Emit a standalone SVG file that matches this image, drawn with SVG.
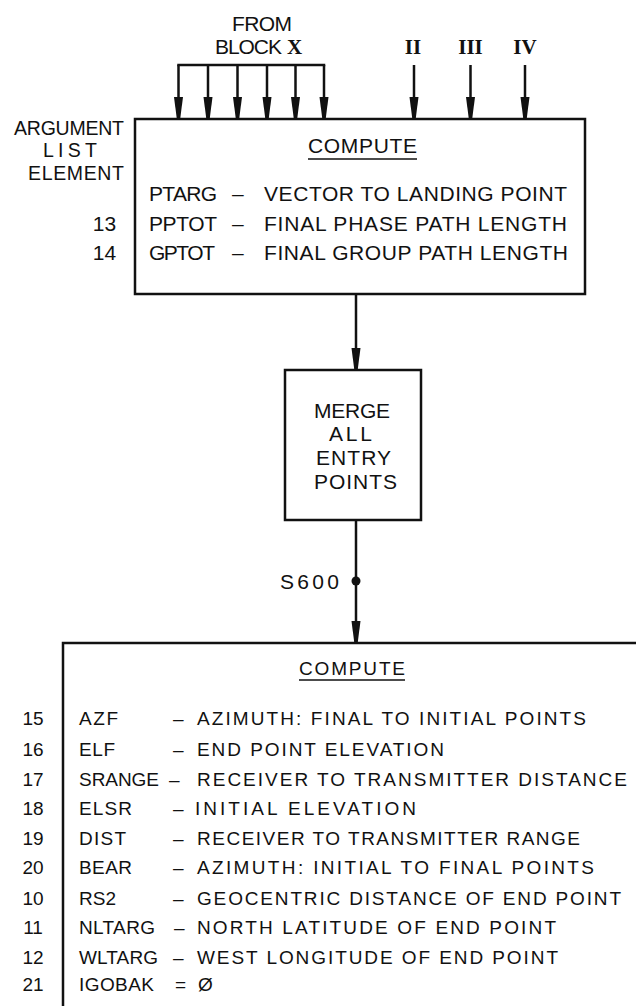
<svg xmlns="http://www.w3.org/2000/svg" width="636" height="1006" viewBox="0 0 636 1006">
  <style>
    text { font-family: "Liberation Sans", Arial, sans-serif; fill: #111; }
    .t20 { font-size: 21px; }
    .t18 { font-size: 19px; }
    .t19 { font-size: 19.5px; }
    .rn { font-family: "Liberation Serif", "Times New Roman", serif; font-size: 21px; font-weight: bold; }
    .box { fill: #fff; stroke: #111; stroke-width: 2.5; }
    .ln { fill: none; stroke: #111; stroke-width: 2.5; }
    .ul { stroke: #111; stroke-width: 1.6; }
  </style>
  <defs>
    <marker id="arr" viewBox="0 -5 22 10" markerWidth="22" markerHeight="10" markerUnits="userSpaceOnUse" refX="22" refY="0" orient="auto">
      <path d="M0,-4.5 L21,-1.8 L22,0 L21,1.8 L0,4.5 Z" fill="#111"/>
    </marker>
  </defs>

  <rect width="636" height="1006" fill="#fff"/>

  <!-- inputs from the upstream blocks -->
  <g id="source-labels">
    <text class="t20" x="232" y="31" textLength="60">FROM</text>
    <text class="t20" x="215" y="54" textLength="67">BLOCK</text>
    <text class="rn" x="287" y="54" textLength="18">X</text>
    <text class="rn" x="413" y="54" text-anchor="middle">II</text>
    <text class="rn" x="470.5" y="54" text-anchor="middle">III</text>
    <text class="rn" x="525" y="54" text-anchor="middle">IV</text>
  </g>

  <g id="argument-header">
    <text class="t19" x="14" y="135" textLength="110">ARGUMENT</text>
    <text class="t19" x="43" y="157" textLength="54">LIST</text>
    <text class="t19" x="28" y="180" textLength="96">ELEMENT</text>
  </g>

  <!-- connectors -->
  <g id="connectors">
    <line class="ln" x1="177.25" y1="65" x2="325.25" y2="65"/>
    <line class="ln" x1="178.5" y1="65" x2="178.5" y2="119" marker-end="url(#arr)"/>
    <line class="ln" x1="208" y1="65" x2="208" y2="119" marker-end="url(#arr)"/>
    <line class="ln" x1="237.5" y1="65" x2="237.5" y2="119" marker-end="url(#arr)"/>
    <line class="ln" x1="267" y1="65" x2="267" y2="119" marker-end="url(#arr)"/>
    <line class="ln" x1="295.5" y1="65" x2="295.5" y2="119" marker-end="url(#arr)"/>
    <line class="ln" x1="324" y1="65" x2="324" y2="119" marker-end="url(#arr)"/>
    <line class="ln" x1="414" y1="65" x2="414" y2="119" marker-end="url(#arr)"/>
    <line class="ln" x1="470.5" y1="65" x2="470.5" y2="119" marker-end="url(#arr)"/>
    <line class="ln" x1="525" y1="65" x2="525" y2="119" marker-end="url(#arr)"/>
    <line class="ln" x1="356" y1="294" x2="356" y2="370" marker-end="url(#arr)"/>
    <line class="ln" x1="356" y1="520" x2="356" y2="643" marker-end="url(#arr)"/>
    <circle cx="356" cy="581" r="4.5" fill="#111"/>
    <text class="t20" x="280" y="589" textLength="59">S600</text>
  </g>

  <!-- first compute block -->
  <g id="compute-1">
    <rect class="box" x="135" y="119" width="450" height="175"/>
    <text class="t20" x="308" y="153" textLength="109">COMPUTE</text>
    <line class="ul" x1="308" y1="159" x2="417" y2="159"/>
    <text class="t20" x="149" y="201" textLength="68">PTARG</text>
    <text class="t20" x="232" y="201">–</text>
    <text class="t20" x="264" y="201" textLength="303">VECTOR TO LANDING POINT</text>
    <text class="t20" x="104.5" y="231" text-anchor="middle">13</text>
    <text class="t20" x="149" y="231" textLength="68">PPTOT</text>
    <text class="t20" x="232" y="231">–</text>
    <text class="t20" x="264" y="231" textLength="303">FINAL PHASE PATH LENGTH</text>
    <text class="t20" x="104.5" y="260" text-anchor="middle">14</text>
    <text class="t20" x="149" y="260" textLength="66">GPTOT</text>
    <text class="t20" x="232" y="260">–</text>
    <text class="t20" x="264" y="260" textLength="304">FINAL GROUP PATH LENGTH</text>
  </g>

  <!-- merge block -->
  <g id="merge">
    <rect class="box" x="285" y="370" width="136" height="150"/>
    <text class="t20" x="314" y="418" textLength="76">MERGE</text>
    <text class="t20" x="329" y="441" textLength="43">ALL</text>
    <text class="t20" x="316" y="465" textLength="75">ENTRY</text>
    <text class="t20" x="314" y="489" textLength="83">POINTS</text>
  </g>

  <!-- second compute block, running off the sheet -->
  <g id="compute-2">
    <path class="box" d="M642,643 H63 V1012 H642 Z"/>
    <text class="t18" x="299" y="675" textLength="106">COMPUTE</text>
    <line class="ul" x1="299" y1="680" x2="405" y2="680"/>

    <text class="t18" x="33" y="725" text-anchor="middle">15</text>
    <text class="t18" x="79" y="725" textLength="39">AZF</text>
    <text class="t18" x="173" y="725">–</text>
    <text class="t18" x="197" y="725" textLength="389">AZIMUTH: FINAL TO INITIAL POINTS</text>

    <text class="t18" x="33" y="756" text-anchor="middle">16</text>
    <text class="t18" x="79" y="756" textLength="36">ELF</text>
    <text class="t18" x="173" y="756">–</text>
    <text class="t18" x="197" y="756" textLength="247">END POINT ELEVATION</text>

    <text class="t18" x="33" y="786" text-anchor="middle">17</text>
    <text class="t18" x="79" y="786" textLength="80">SRANGE</text>
    <text class="t18" x="169" y="786">–</text>
    <text class="t18" x="197" y="786" textLength="430">RECEIVER TO TRANSMITTER DISTANCE</text>

    <text class="t18" x="33" y="815" text-anchor="middle">18</text>
    <text class="t18" x="79" y="815" textLength="53">ELSR</text>
    <text class="t18" x="173" y="815">–</text>
    <text class="t18" x="195" y="815" textLength="221">INITIAL ELEVATION</text>

    <text class="t18" x="33" y="845" text-anchor="middle">19</text>
    <text class="t18" x="79" y="845" textLength="47">DIST</text>
    <text class="t18" x="173" y="845">–</text>
    <text class="t18" x="197" y="845" textLength="383">RECEIVER TO TRANSMITTER RANGE</text>

    <text class="t18" x="33" y="874" text-anchor="middle">20</text>
    <text class="t18" x="79" y="874" textLength="53">BEAR</text>
    <text class="t18" x="173" y="874">–</text>
    <text class="t18" x="197" y="874" textLength="397">AZIMUTH: INITIAL TO FINAL POINTS</text>

    <text class="t18" x="33" y="905" text-anchor="middle">10</text>
    <text class="t18" x="79" y="905" textLength="37">RS2</text>
    <text class="t18" x="173" y="905">–</text>
    <text class="t18" x="197" y="905" textLength="424">GEOCENTRIC DISTANCE OF END POINT</text>

    <text class="t18" x="33" y="934" text-anchor="middle">11</text>
    <text class="t18" x="79" y="934" textLength="76">NLTARG</text>
    <text class="t18" x="174" y="934">–</text>
    <text class="t18" x="197" y="934" textLength="359">NORTH LATITUDE OF END POINT</text>

    <text class="t18" x="33" y="964" text-anchor="middle">12</text>
    <text class="t18" x="79" y="964" textLength="79">WLTARG</text>
    <text class="t18" x="173" y="964">–</text>
    <text class="t18" x="197" y="964" textLength="361">WEST LONGITUDE OF END POINT</text>

    <text class="t18" x="33" y="991" text-anchor="middle">21</text>
    <text class="t18" x="79" y="991" textLength="75">IGOBAK</text>
    <text class="t18" x="175" y="991">=</text>
    <text class="t18" x="198" y="991">Ø</text>
  </g>
</svg>
